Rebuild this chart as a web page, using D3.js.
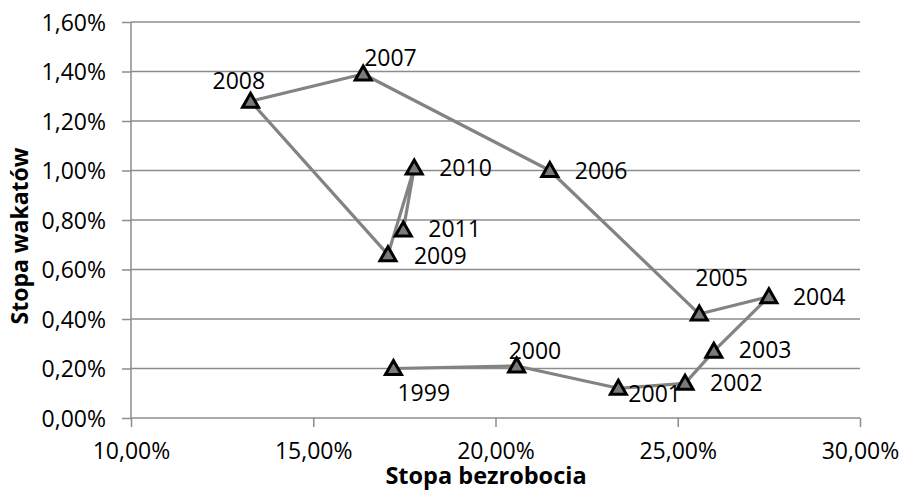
<!DOCTYPE html>
<html>
<head>
<meta charset="utf-8">
<script src="https://cdn.jsdelivr.net/npm/d3@7"></script>
<style>
  body { margin: 0; background: #fff; }
  svg { display: block; font-family: "Open Sans", "Noto Sans", sans-serif; }
</style>
</head>
<body>
<svg id="chart" width="902" height="491"></svg>
<script>
// values (percent)
var years = ["1999", "2000", "2001", "2002", "2003", "2004", "2005", "2006", "2007", "2008", "2009", "2010", "2011"];
var unemployment = [17.2, 20.58, 23.37, 25.2, 25.99, 27.5, 25.59, 21.49, 16.37, 13.28, 17.05, 17.77, 17.47];
var vacancies = [0.20, 0.21, 0.12, 0.14, 0.27, 0.49, 0.42, 1.00, 1.39, 1.28, 0.66, 1.01, 0.76];
var xTicks = [10, 15, 20, 25, 30];
var yTicks = [0, 0.2, 0.4, 0.6, 0.8, 1.0, 1.2, 1.4, 1.6];

// where each data label sits relative to its marker
var labelOffset = {
  "1999": [4, 32], "2000": [-8, -7], "2001": [10, 14], "2002": [25, 8],
  "2003": [25, 7], "2004": [24, 8], "2005": [-4, -28], "2006": [25, 8],
  "2007": [1, -8], "2008": [-38, -12], "2009": [26, 9], "2010": [25, 8],
  "2011": [25, 7]
};

var svg = d3.select("#chart");
var margin = {left: 131, right: 42, top: 22, bottom: 73};
var W = 902, H = 491;

var x = d3.scaleLinear().domain([10, 30]).range([margin.left, W - margin.right]);
var y = d3.scaleLinear().domain([0, 1.6]).range([H - margin.bottom, margin.top]);

var fmt = function(v, d) { return v.toFixed(d).replace(".", ",") + "%"; };
var gridColor = "#8c8c8c";
var fs = 23;

// horizontal gridlines
svg.append("g").selectAll("line").data(yTicks.slice(1)).join("line")
  .attr("x1", x(10)).attr("x2", x(30))
  .attr("y1", d => y(d)).attr("y2", d => y(d))
  .attr("stroke", gridColor).attr("stroke-width", 1.5);

// axes
var xAxis = svg.append("g")
  .attr("transform", "translate(0," + y(0) + ")")
  .call(d3.axisBottom(x).tickValues(xTicks).tickSize(9).tickFormat(d => fmt(d, 2)));
var yAxis = svg.append("g")
  .attr("transform", "translate(" + x(10) + ",0)")
  .call(d3.axisLeft(y).tickValues(yTicks).tickSize(9).tickFormat(d => fmt(d, 2)));

[xAxis, yAxis].forEach(function(a) {
  a.selectAll(".domain").attr("stroke", gridColor).attr("stroke-width", 1.5);
  a.selectAll(".tick line").attr("stroke", gridColor).attr("stroke-width", 1.5);
  a.selectAll("text").attr("font-family", "Open Sans").attr("font-size", fs).attr("fill", "#000");
});
xAxis.selectAll("text").attr("y", 41).attr("dy", 0);
yAxis.selectAll("text").attr("x", -25).attr("dy", "0.36em");
xAxis.select(".domain").attr("d", "M" + x(10) + ",0H" + x(30));
yAxis.select(".domain").attr("d", "M0," + y(0) + "V" + y(1.6));

// axis titles
svg.append("text")
  .attr("x", 486).attr("y", 484)
  .attr("text-anchor", "middle").attr("font-weight", "bold").attr("font-size", 23.5)
  .text("Stopa bezrobocia");
svg.append("text")
  .attr("transform", "translate(28,236) rotate(-90)")
  .attr("text-anchor", "middle").attr("font-weight", "bold").attr("font-size", 23)
  .text("Stopa wakatów");

var pts = years.map((yr, i) => ({year: yr, u: unemployment[i], v: vacancies[i]}));

// connecting line
svg.append("path").datum(pts)
  .attr("fill", "none").attr("stroke", "#838383").attr("stroke-width", 3.2)
  .attr("stroke-linejoin", "round")
  .attr("d", d3.line().x(d => x(d.u)).y(d => y(d.v)));

// triangle markers
var tri = "M0,-8L8,6L-8,6Z";
svg.append("g").selectAll("path").data(pts).join("path")
  .attr("transform", d => "translate(" + x(d.u) + "," + y(d.v) + ")")
  .attr("d", tri)
  .attr("fill", "#7a7a7a").attr("stroke", "#000").attr("stroke-width", 3)
  .attr("stroke-linejoin", "miter");

// data labels
svg.append("g").selectAll("text").data(pts).join("text")
  .attr("x", d => x(d.u) + labelOffset[d.year][0])
  .attr("y", d => y(d.v) + labelOffset[d.year][1])
  .attr("font-size", fs).attr("fill", "#000")
  .text(d => d.year);
</script>
</body>
</html>
